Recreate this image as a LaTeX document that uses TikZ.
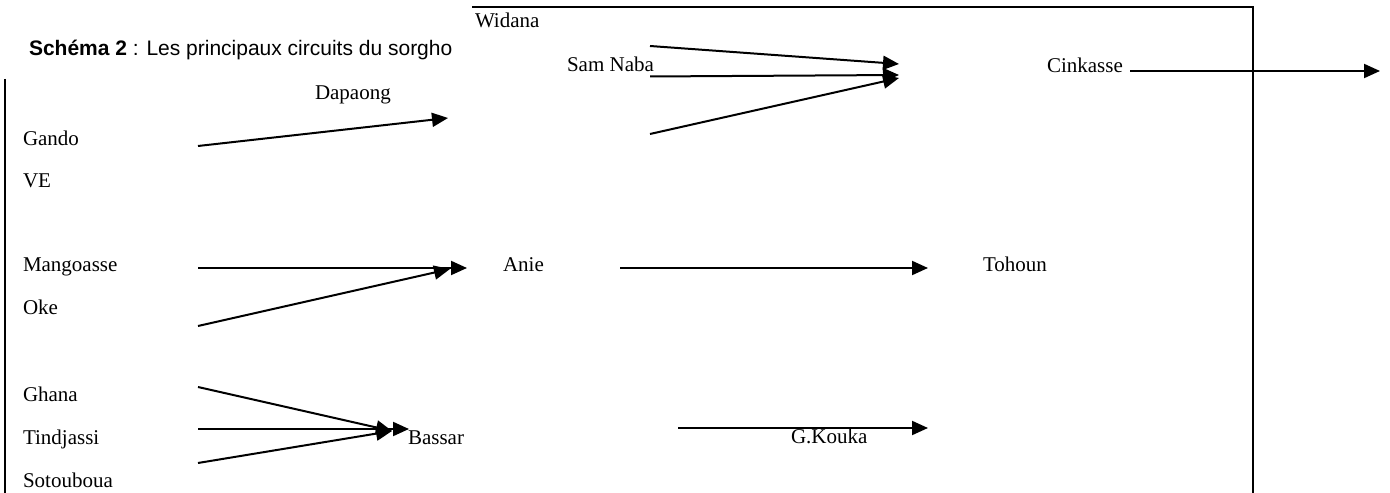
\documentclass[tikz,border=0pt]{standalone}
\usepackage{fontspec}
\setmainfont{Liberation Serif}
\newfontfamily\arialfont{Liberation Sans}
\usetikzlibrary{arrows.meta}
\begin{document}
\begin{tikzpicture}[x=0.5bp,y=-0.5bp,
  lbl/.style={anchor=base west,inner sep=0pt,outer sep=0pt,font=\fontsize{10.5bp}{12bp}\selectfont},
  flow/.style={line width=1bp,-{Triangle[length=8bp,width=7bp]}},
  frame/.style={line width=1.3bp}]
\useasboundingbox (0,0) rectangle (1390,493);
% frame
\coordinate (fl1) at (5,79);
\coordinate (fl2) at (5,493);
\coordinate (ft1) at (472,7);
\coordinate (ft2) at (1253,7);
\coordinate (fr2) at (1253,493);
\draw[frame] (fl1) -- (fl2);
\draw[frame] (ft1) -- (ft2) -- (fr2);
% title
\node[lbl,font=\arialfont\fontsize{10.5bp}{12bp}\selectfont] (title) at (29,56) {\textbf{Schéma 2} : Les principaux circuits du sorgho};
% labels
\node[lbl] (widana) at (475,28) {Widana};
\node[lbl] (samnaba) at (567,72) {Sam Naba};
\node[lbl] (cinkasse) at (1047,73) {Cinkasse};
\node[lbl] (dapaong) at (315,100) {Dapaong};
\node[lbl] (gando) at (23,146) {Gando};
\node[lbl] (ve) at (23,188) {VE};
\node[lbl] (mangoasse) at (23,272) {Mangoasse};
\node[lbl] (oke) at (23,315) {Oke};
\node[lbl] (anie) at (503,272) {Anie};
\node[lbl] (tohoun) at (983,272) {Tohoun};
\node[lbl] (ghana) at (23,402) {Ghana};
\node[lbl] (tindjassi) at (23,444) {Tindjassi};
\node[lbl] (sotouboua) at (23,487) {Sotouboua};
\node[lbl] (bassar) at (408,444) {Bassar};
\node[lbl] (gkouka) at (791,443) {G.Kouka};
% arrow end points
\coordinate (a1s) at (650,46);  \coordinate (a1e) at (899,64);
\coordinate (a2s) at (650,76.5);\coordinate (a2e) at (899,75);
\coordinate (a3s) at (650,134); \coordinate (a3e) at (899,78);
\coordinate (ci1) at (1130,71); \coordinate (ci2) at (1380,71);
\coordinate (g1) at (198,146);  \coordinate (g2) at (448,118);
\coordinate (m1) at (198,268);  \coordinate (m2) at (467,268);
\coordinate (o1) at (198,326);  \coordinate (o2) at (450,269);
\coordinate (an1) at (620,268); \coordinate (an2) at (928,268);
\coordinate (gh1) at (198,387); \coordinate (gh2) at (392,431);
\coordinate (ti1) at (198,429); \coordinate (ti2) at (409,429);
\coordinate (so1) at (198,463); \coordinate (so2) at (392,431);
\coordinate (gk1) at (678,428); \coordinate (gk2) at (928,428);
% arrows
\draw[flow] (a1s) -- (a1e);
\draw[flow] (a2s) -- (a2e);
\draw[flow] (a3s) -- (a3e);
\draw[flow] (ci1) -- (ci2);
\draw[flow] (g1) -- (g2);
\draw[flow] (m1) -- (m2);
\draw[flow] (o1) -- (o2);
\draw[flow] (an1) -- (an2);
\draw[flow] (gh1) -- (gh2);
\draw[flow] (ti1) -- (ti2);
\draw[flow] (so1) -- (so2);
\draw[flow] (gk1) -- (gk2);
\end{tikzpicture}
\end{document}
